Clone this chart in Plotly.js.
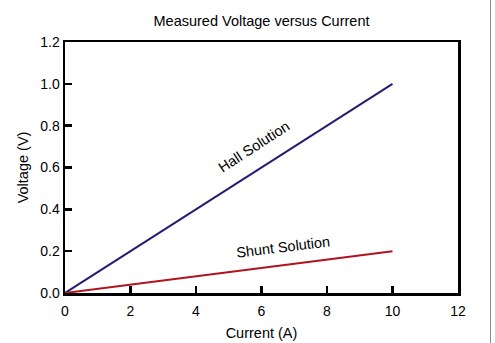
<!DOCTYPE html>
<html><head><meta charset="utf-8">
<script src="https://cdn.plot.ly/plotly-3.0.1.min.js"></script>
<style>body{margin:0;background:#fff}#c{width:495px;height:343px;position:relative}#edge{position:absolute;left:490px;top:0;width:1px;height:343px;background:#888}</style>
</head><body><div id="c"></div><div id="edge"></div>
<script>
const current = [0, 10];
const hallVoltage = [0, 1.0];
const shuntVoltage = [0, 0.2];
const xTicks = [0, 2, 4, 6, 8, 10, 12];
const yTicks = [0, 0.2, 0.4, 0.6, 0.8, 1.0, 1.2];
const f = 'Liberation Sans, Arial, sans-serif';
Plotly.newPlot('c', [
  {x: current, y: hallVoltage, mode: 'lines', line: {color: '#2b1a72', width: 2}, hoverinfo: 'skip'},
  {x: current, y: shuntVoltage, mode: 'lines', line: {color: '#b3121f', width: 2}, hoverinfo: 'skip'}
], {
  width: 495, height: 343, showlegend: false,
  margin: {l: 65, r: 37, t: 42, b: 50},
  paper_bgcolor: '#fff', plot_bgcolor: '#fff',
  title: {text: 'Measured Voltage versus Current', font: {family: f, size: 14.5, color: '#000'}, x: 0.5, xref: 'paper', y: 0.94, yanchor: 'middle'},
  xaxis: {range: [0, 12], tickvals: xTicks, ticktext: xTicks.map(String), showgrid: false, zeroline: false,
    showline: true, linewidth: 2.5, linecolor: '#000', mirror: true, ticks: 'inside', ticklen: 7, tickwidth: 2.5, tickcolor: '#000',
    ticklabelstandoff: 4,
    tickfont: {family: f, size: 14, color: '#000'},
    title: {text: 'Current (A)', font: {family: f, size: 14.5, color: '#000'}, standoff: 10}},
  yaxis: {range: [0, 1.2], tickvals: yTicks, ticktext: yTicks.map(v => v.toFixed(1)), showgrid: false, zeroline: false,
    showline: true, linewidth: 2.5, linecolor: '#000', mirror: true, ticks: 'inside', ticklen: 7, tickwidth: 2.5, tickcolor: '#000',
    tickfont: {family: f, size: 14, color: '#000'},
    title: {text: 'Voltage (V)', font: {family: f, size: 14.5, color: '#000'}, standoff: 8}},
  annotations: [
    {x: 5.75, y: 0.70, text: 'Hall Solution', showarrow: false, textangle: -33, font: {family: f, size: 14.5, color: '#000'}},
    {x: 6.67, y: 0.218, text: 'Shunt Solution', showarrow: false, textangle: -7, font: {family: f, size: 14.5, color: '#000'}}
  ]
}, {staticPlot: true});
</script></body></html>
